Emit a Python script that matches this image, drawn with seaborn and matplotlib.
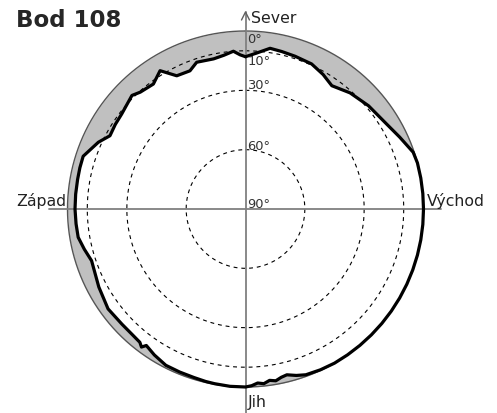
import numpy as np
import matplotlib
matplotlib.use("Agg")
import matplotlib.pyplot as plt
import seaborn as sns
import pandas as pd
from matplotlib.lines import Line2D

# ---- data: horizon profile (azimuth deg clockwise from north, altitude deg)
azimuth = [0, 4, 8.7, 13, 18, 24.5, 30, 35, 42, 50, 59, 65, 71.3, 75, 80, 85, 90, 95,
           100, 105, 110, 115, 120, 125, 130, 135, 140, 145, 150, 155, 160, 163, 166,
           168, 170, 172, 174, 176, 178, 180, 185, 190, 193, 197, 202, 207, 212, 216,
           217, 218.4, 222, 227, 234, 242, 251.4, 256, 260.4, 265, 270, 275, 280, 284,
           288, 294.4, 298.4, 303, 307.5, 315, 318, 323.6, 328.3, 332.7, 338.1, 341.6,
           348, 352, 355.6, 358, 360]
altitude = [13, 11, 7.8, 8.3, 8.8, 9.4, 11.5, 13.9, 11, 8.8, 6.7, 4, 0.5, 0, 0, 0, 0, 0,
            0, 0, 0, 0, 0, 0, 0, 0, 0, 0, 0, 0.3, 0.8, 2, 3.6,
            3, 1.8, 2.5, 1.2, 1.8, 0.6, 0, 0, 0.3, 0.5, 0.9, 1.1, 1.3, 3, 4.7,
            2.6, 4.0, 4.5, 4.6, 4.1, 6, 7.9, 6, 4.2, 4.0, 3.8, 3.8, 3.8, 3.7,
            3.7, 8.3, 12.1, 11.5, 11.1, 8.8, 10.5, 11.5, 7.8, 14.2, 14.7, 11.8,
            12.4, 11.5, 10, 12, 13]

circle_alts = [10, 30, 60]
degree_labels = ["0°", "10°", "30°", "60°", "90°"]
direction_labels = ["Sever", "Východ", "Jih", "Západ"]
title = "Bod 108"

W, H = 497, 414
fig = plt.figure(figsize=(W / 100, H / 100), dpi=100)
sns.set_style("white")
plt.rcParams['font.family'] = ['DejaVu Sans']

cx, cy, R = 245.5, 210.0, 178.0
ax = fig.add_axes([(cx - R) / W, (H - cy - R) / H, 2 * R / W, 2 * R / H],
                  projection='polar')
ax.set_theta_zero_location('N')
ax.set_theta_direction(-1)
ax.set_rlim(0, 90)
ax.grid(False)
ax.set_xticks([])
ax.set_yticks([])
ax.spines['polar'].set_visible(False)
ax.patch.set_alpha(0)

df = pd.DataFrame({"theta": np.deg2rad(azimuth), "r": 90 - np.array(altitude)})

th_full = np.linspace(0, 2 * np.pi, 721)
r_prof = np.interp(th_full, df["theta"], df["r"])
ax.fill_between(th_full, r_prof, 90, color='#c0c0c0', lw=0, zorder=1, clip_on=False)
ax.plot(th_full, np.full_like(th_full, 90), color='#555555', lw=1.0, zorder=2,
        clip_on=False)

for a in circle_alts:
    ax.plot(th_full, np.full_like(th_full, 90 - a), color='black', lw=0.8,
            ls=(0, (3.5, 3.5)), zorder=2)

# cross axes
ax.add_line(Line2D([(49 - (cx - R)) / (2 * R), (441 - (cx - R)) / (2 * R)], [0.5, 0.5],
                   transform=ax.transAxes, color='#808080', lw=1.3, clip_on=False, zorder=3))
ax.add_line(Line2D([0.5, 0.5], [(cy + R - 414) / (2 * R), (cy + R - 13) / (2 * R)],
                   transform=ax.transAxes, color='#808080', lw=1.3, clip_on=False, zorder=3))


def fx(px):
    return px / W


def fy(py):
    return 1 - py / H


# arrow head
fig.add_artist(Line2D([fx(241.5), fx(245.5), fx(249.5)], [fy(21), fy(13), fy(21)],
                      color='#606060', lw=1.0))

sns.lineplot(data=df, x="theta", y="r", ax=ax, color='black', lw=2.3, sort=False,
             zorder=5, estimator=None)
for ln in ax.get_lines():
    ln.set_clip_on(False)
ax.set_xlabel("")
ax.set_ylabel("")
ax.set_rlim(0, 90)

fig.text(fx(16), fy(27), title, fontsize=16.5, fontweight='bold',
         family='DejaVu Sans', ha='left', va='baseline')

fs = 11.3
col = '#222222'
fig.text(fx(251), fy(23), direction_labels[0], fontsize=fs, ha='left', va='baseline', color=col)
fig.text(fx(427), fy(206), direction_labels[1], fontsize=fs, ha='left', va='baseline', color=col)
fig.text(fx(248), fy(407), direction_labels[2], fontsize=fs, ha='left', va='baseline', color=col)
fig.text(fx(66), fy(206), direction_labels[3], fontsize=fs, ha='right', va='baseline', color=col)

dfs = 9.4
deg_y = [43, 65, 89, 150, 208]
for lab, yy in zip(degree_labels, deg_y):
    fig.text(fx(247.5), fy(yy), lab, fontsize=dfs, ha='left', va='baseline', color='#333333')

fig.savefig("out.png", dpi=100)
